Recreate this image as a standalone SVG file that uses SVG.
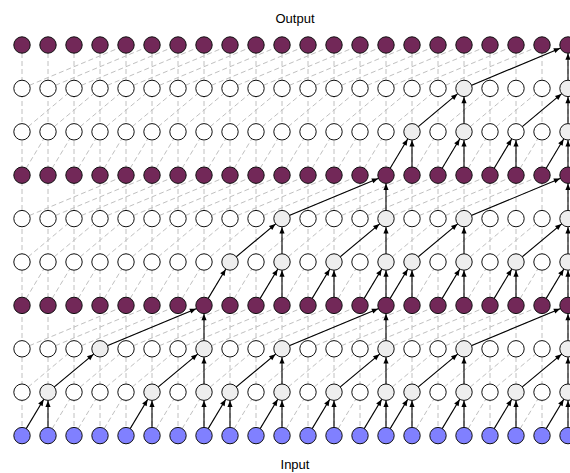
<svg xmlns="http://www.w3.org/2000/svg" width="570" height="473" viewBox="0 0 570 473">
<style>
text{font-family:"Liberation Sans",Arial,sans-serif;font-size:13px;fill:#000}
circle{stroke:#111;stroke-width:1}
.p{fill:#722858}.b{fill:#8080ff}.w{fill:#fff}.g{fill:#eeeeee}
.d{fill:none;stroke:#c0c0c0;stroke-width:1;stroke-dasharray:5 3}
.a{stroke:#000;stroke-width:1.1;marker-end:url(#ah)}
</style>
<defs>
<marker id="ah" markerUnits="userSpaceOnUse" markerWidth="8" markerHeight="8" refX="14.8" refY="0" orient="auto" overflow="visible">
<path d="M0,-2.6 L6.2,0 L0,2.6 z" fill="#000"/>
</marker>
</defs>
<rect width="570" height="473" fill="#fff"/>
<text x="295" y="23" text-anchor="middle">Output</text>
<text x="295" y="469" text-anchor="middle">Input</text>
<g id="connectors">
<g id="grid">
<path class="d" d="M22 45V435.6M48 45V435.6M74 45V435.6M100 45V435.6M126 45V435.6M152 45V435.6M178 45V435.6M204 45V435.6M230 45V435.6M256 45V435.6M282 45V435.6M308 45V435.6M334 45V435.6M360 45V435.6M386 45V435.6M412 45V435.6M438 45V435.6M464 45V435.6M490 45V435.6M516 45V435.6M542 45V435.6M568 45V435.6"/>
<path class="d" d="M22 88.4l104 -43.4M48 88.4l104 -43.4M74 88.4l104 -43.4M100 88.4l104 -43.4M126 88.4l104 -43.4M152 88.4l104 -43.4M178 88.4l104 -43.4M204 88.4l104 -43.4M230 88.4l104 -43.4M256 88.4l104 -43.4M282 88.4l104 -43.4M308 88.4l104 -43.4M334 88.4l104 -43.4M360 88.4l104 -43.4M386 88.4l104 -43.4M412 88.4l104 -43.4M438 88.4l104 -43.4M464 88.4l104 -43.4"/>
<path class="d" d="M22 131.8l52 -43.4M48 131.8l52 -43.4M74 131.8l52 -43.4M100 131.8l52 -43.4M126 131.8l52 -43.4M152 131.8l52 -43.4M178 131.8l52 -43.4M204 131.8l52 -43.4M230 131.8l52 -43.4M256 131.8l52 -43.4M282 131.8l52 -43.4M308 131.8l52 -43.4M334 131.8l52 -43.4M360 131.8l52 -43.4M386 131.8l52 -43.4M412 131.8l52 -43.4M438 131.8l52 -43.4M464 131.8l52 -43.4M490 131.8l52 -43.4M516 131.8l52 -43.4"/>
<path class="d" d="M22 175.2l26 -43.4M48 175.2l26 -43.4M74 175.2l26 -43.4M100 175.2l26 -43.4M126 175.2l26 -43.4M152 175.2l26 -43.4M178 175.2l26 -43.4M204 175.2l26 -43.4M230 175.2l26 -43.4M256 175.2l26 -43.4M282 175.2l26 -43.4M308 175.2l26 -43.4M334 175.2l26 -43.4M360 175.2l26 -43.4M386 175.2l26 -43.4M412 175.2l26 -43.4M438 175.2l26 -43.4M464 175.2l26 -43.4M490 175.2l26 -43.4M516 175.2l26 -43.4M542 175.2l26 -43.4"/>
<path class="d" d="M22 218.6l104 -43.4M48 218.6l104 -43.4M74 218.6l104 -43.4M100 218.6l104 -43.4M126 218.6l104 -43.4M152 218.6l104 -43.4M178 218.6l104 -43.4M204 218.6l104 -43.4M230 218.6l104 -43.4M256 218.6l104 -43.4M282 218.6l104 -43.4M308 218.6l104 -43.4M334 218.6l104 -43.4M360 218.6l104 -43.4M386 218.6l104 -43.4M412 218.6l104 -43.4M438 218.6l104 -43.4M464 218.6l104 -43.4"/>
<path class="d" d="M22 262l52 -43.4M48 262l52 -43.4M74 262l52 -43.4M100 262l52 -43.4M126 262l52 -43.4M152 262l52 -43.4M178 262l52 -43.4M204 262l52 -43.4M230 262l52 -43.4M256 262l52 -43.4M282 262l52 -43.4M308 262l52 -43.4M334 262l52 -43.4M360 262l52 -43.4M386 262l52 -43.4M412 262l52 -43.4M438 262l52 -43.4M464 262l52 -43.4M490 262l52 -43.4M516 262l52 -43.4"/>
<path class="d" d="M22 305.4l26 -43.4M48 305.4l26 -43.4M74 305.4l26 -43.4M100 305.4l26 -43.4M126 305.4l26 -43.4M152 305.4l26 -43.4M178 305.4l26 -43.4M204 305.4l26 -43.4M230 305.4l26 -43.4M256 305.4l26 -43.4M282 305.4l26 -43.4M308 305.4l26 -43.4M334 305.4l26 -43.4M360 305.4l26 -43.4M386 305.4l26 -43.4M412 305.4l26 -43.4M438 305.4l26 -43.4M464 305.4l26 -43.4M490 305.4l26 -43.4M516 305.4l26 -43.4M542 305.4l26 -43.4"/>
<path class="d" d="M22 348.8l104 -43.4M48 348.8l104 -43.4M74 348.8l104 -43.4M100 348.8l104 -43.4M126 348.8l104 -43.4M152 348.8l104 -43.4M178 348.8l104 -43.4M204 348.8l104 -43.4M230 348.8l104 -43.4M256 348.8l104 -43.4M282 348.8l104 -43.4M308 348.8l104 -43.4M334 348.8l104 -43.4M360 348.8l104 -43.4M386 348.8l104 -43.4M412 348.8l104 -43.4M438 348.8l104 -43.4M464 348.8l104 -43.4"/>
<path class="d" d="M22 392.2l52 -43.4M48 392.2l52 -43.4M74 392.2l52 -43.4M100 392.2l52 -43.4M126 392.2l52 -43.4M152 392.2l52 -43.4M178 392.2l52 -43.4M204 392.2l52 -43.4M230 392.2l52 -43.4M256 392.2l52 -43.4M282 392.2l52 -43.4M308 392.2l52 -43.4M334 392.2l52 -43.4M360 392.2l52 -43.4M386 392.2l52 -43.4M412 392.2l52 -43.4M438 392.2l52 -43.4M464 392.2l52 -43.4M490 392.2l52 -43.4M516 392.2l52 -43.4"/>
<path class="d" d="M22 435.6l26 -43.4M48 435.6l26 -43.4M74 435.6l26 -43.4M100 435.6l26 -43.4M126 435.6l26 -43.4M152 435.6l26 -43.4M178 435.6l26 -43.4M204 435.6l26 -43.4M230 435.6l26 -43.4M256 435.6l26 -43.4M282 435.6l26 -43.4M308 435.6l26 -43.4M334 435.6l26 -43.4M360 435.6l26 -43.4M386 435.6l26 -43.4M412 435.6l26 -43.4M438 435.6l26 -43.4M464 435.6l26 -43.4M490 435.6l26 -43.4M516 435.6l26 -43.4M542 435.6l26 -43.4"/>
</g>
<g id="arrows">
<line class="a" x1="22" y1="435.6" x2="48" y2="392.2"/>
<line class="a" x1="48" y1="435.6" x2="48" y2="392.2"/>
<line class="a" x1="126" y1="435.6" x2="152" y2="392.2"/>
<line class="a" x1="152" y1="435.6" x2="152" y2="392.2"/>
<line class="a" x1="204" y1="435.6" x2="204" y2="392.2"/>
<line class="a" x1="204" y1="435.6" x2="230" y2="392.2"/>
<line class="a" x1="230" y1="435.6" x2="230" y2="392.2"/>
<line class="a" x1="256" y1="435.6" x2="282" y2="392.2"/>
<line class="a" x1="282" y1="435.6" x2="282" y2="392.2"/>
<line class="a" x1="308" y1="435.6" x2="334" y2="392.2"/>
<line class="a" x1="334" y1="435.6" x2="334" y2="392.2"/>
<line class="a" x1="360" y1="435.6" x2="386" y2="392.2"/>
<line class="a" x1="386" y1="435.6" x2="386" y2="392.2"/>
<line class="a" x1="386" y1="435.6" x2="412" y2="392.2"/>
<line class="a" x1="412" y1="435.6" x2="412" y2="392.2"/>
<line class="a" x1="438" y1="435.6" x2="464" y2="392.2"/>
<line class="a" x1="464" y1="435.6" x2="464" y2="392.2"/>
<line class="a" x1="490" y1="435.6" x2="516" y2="392.2"/>
<line class="a" x1="516" y1="435.6" x2="516" y2="392.2"/>
<line class="a" x1="542" y1="435.6" x2="568" y2="392.2"/>
<line class="a" x1="568" y1="435.6" x2="568" y2="392.2"/>
<line class="a" x1="48" y1="392.2" x2="100" y2="348.8"/>
<line class="a" x1="152" y1="392.2" x2="204" y2="348.8"/>
<line class="a" x1="204" y1="392.2" x2="204" y2="348.8"/>
<line class="a" x1="230" y1="392.2" x2="282" y2="348.8"/>
<line class="a" x1="282" y1="392.2" x2="282" y2="348.8"/>
<line class="a" x1="334" y1="392.2" x2="386" y2="348.8"/>
<line class="a" x1="386" y1="392.2" x2="386" y2="348.8"/>
<line class="a" x1="412" y1="392.2" x2="464" y2="348.8"/>
<line class="a" x1="464" y1="392.2" x2="464" y2="348.8"/>
<line class="a" x1="516" y1="392.2" x2="568" y2="348.8"/>
<line class="a" x1="568" y1="392.2" x2="568" y2="348.8"/>
<line class="a" x1="100" y1="348.8" x2="204" y2="305.4"/>
<line class="a" x1="204" y1="348.8" x2="204" y2="305.4"/>
<line class="a" x1="282" y1="348.8" x2="386" y2="305.4"/>
<line class="a" x1="386" y1="348.8" x2="386" y2="305.4"/>
<line class="a" x1="464" y1="348.8" x2="568" y2="305.4"/>
<line class="a" x1="568" y1="348.8" x2="568" y2="305.4"/>
<line class="a" x1="204" y1="305.4" x2="230" y2="262"/>
<line class="a" x1="256" y1="305.4" x2="282" y2="262"/>
<line class="a" x1="282" y1="305.4" x2="282" y2="262"/>
<line class="a" x1="308" y1="305.4" x2="334" y2="262"/>
<line class="a" x1="334" y1="305.4" x2="334" y2="262"/>
<line class="a" x1="360" y1="305.4" x2="386" y2="262"/>
<line class="a" x1="386" y1="305.4" x2="386" y2="262"/>
<line class="a" x1="386" y1="305.4" x2="412" y2="262"/>
<line class="a" x1="412" y1="305.4" x2="412" y2="262"/>
<line class="a" x1="438" y1="305.4" x2="464" y2="262"/>
<line class="a" x1="464" y1="305.4" x2="464" y2="262"/>
<line class="a" x1="490" y1="305.4" x2="516" y2="262"/>
<line class="a" x1="516" y1="305.4" x2="516" y2="262"/>
<line class="a" x1="542" y1="305.4" x2="568" y2="262"/>
<line class="a" x1="568" y1="305.4" x2="568" y2="262"/>
<line class="a" x1="230" y1="262" x2="282" y2="218.6"/>
<line class="a" x1="282" y1="262" x2="282" y2="218.6"/>
<line class="a" x1="334" y1="262" x2="386" y2="218.6"/>
<line class="a" x1="386" y1="262" x2="386" y2="218.6"/>
<line class="a" x1="412" y1="262" x2="464" y2="218.6"/>
<line class="a" x1="464" y1="262" x2="464" y2="218.6"/>
<line class="a" x1="516" y1="262" x2="568" y2="218.6"/>
<line class="a" x1="568" y1="262" x2="568" y2="218.6"/>
<line class="a" x1="282" y1="218.6" x2="386" y2="175.2"/>
<line class="a" x1="386" y1="218.6" x2="386" y2="175.2"/>
<line class="a" x1="464" y1="218.6" x2="568" y2="175.2"/>
<line class="a" x1="568" y1="218.6" x2="568" y2="175.2"/>
<line class="a" x1="386" y1="175.2" x2="412" y2="131.8"/>
<line class="a" x1="412" y1="175.2" x2="412" y2="131.8"/>
<line class="a" x1="438" y1="175.2" x2="464" y2="131.8"/>
<line class="a" x1="464" y1="175.2" x2="464" y2="131.8"/>
<line class="a" x1="490" y1="175.2" x2="516" y2="131.8"/>
<line class="a" x1="516" y1="175.2" x2="516" y2="131.8"/>
<line class="a" x1="542" y1="175.2" x2="568" y2="131.8"/>
<line class="a" x1="568" y1="175.2" x2="568" y2="131.8"/>
<line class="a" x1="412" y1="131.8" x2="464" y2="88.4"/>
<line class="a" x1="464" y1="131.8" x2="464" y2="88.4"/>
<line class="a" x1="516" y1="131.8" x2="568" y2="88.4"/>
<line class="a" x1="568" y1="131.8" x2="568" y2="88.4"/>
<line class="a" x1="464" y1="88.4" x2="568" y2="45"/>
<line class="a" x1="568" y1="88.4" x2="568" y2="45"/>
</g>
</g>
<g id="nodes">
<g id="row0" transform="translate(0,45)">
<g id="n0-0"><circle class="p" cx="22" r="8.2"/></g><g id="n0-1"><circle class="p" cx="48" r="8.2"/></g><g id="n0-2"><circle class="p" cx="74" r="8.2"/></g><g id="n0-3"><circle class="p" cx="100" r="8.2"/></g><g id="n0-4"><circle class="p" cx="126" r="8.2"/></g><g id="n0-5"><circle class="p" cx="152" r="8.2"/></g><g id="n0-6"><circle class="p" cx="178" r="8.2"/></g><g id="n0-7"><circle class="p" cx="204" r="8.2"/></g><g id="n0-8"><circle class="p" cx="230" r="8.2"/></g><g id="n0-9"><circle class="p" cx="256" r="8.2"/></g><g id="n0-10"><circle class="p" cx="282" r="8.2"/></g><g id="n0-11"><circle class="p" cx="308" r="8.2"/></g><g id="n0-12"><circle class="p" cx="334" r="8.2"/></g><g id="n0-13"><circle class="p" cx="360" r="8.2"/></g><g id="n0-14"><circle class="p" cx="386" r="8.2"/></g><g id="n0-15"><circle class="p" cx="412" r="8.2"/></g><g id="n0-16"><circle class="p" cx="438" r="8.2"/></g><g id="n0-17"><circle class="p" cx="464" r="8.2"/></g><g id="n0-18"><circle class="p" cx="490" r="8.2"/></g><g id="n0-19"><circle class="p" cx="516" r="8.2"/></g><g id="n0-20"><circle class="p" cx="542" r="8.2"/></g><g id="n0-21"><circle class="p" cx="568" r="8.2"/></g>
</g>
<g id="row1" transform="translate(0,88.4)">
<g id="n1-0"><circle class="w" cx="22" r="8.2"/></g><g id="n1-1"><circle class="w" cx="48" r="8.2"/></g><g id="n1-2"><circle class="w" cx="74" r="8.2"/></g><g id="n1-3"><circle class="w" cx="100" r="8.2"/></g><g id="n1-4"><circle class="w" cx="126" r="8.2"/></g><g id="n1-5"><circle class="w" cx="152" r="8.2"/></g><g id="n1-6"><circle class="w" cx="178" r="8.2"/></g><g id="n1-7"><circle class="w" cx="204" r="8.2"/></g><g id="n1-8"><circle class="w" cx="230" r="8.2"/></g><g id="n1-9"><circle class="w" cx="256" r="8.2"/></g><g id="n1-10"><circle class="w" cx="282" r="8.2"/></g><g id="n1-11"><circle class="w" cx="308" r="8.2"/></g><g id="n1-12"><circle class="w" cx="334" r="8.2"/></g><g id="n1-13"><circle class="w" cx="360" r="8.2"/></g><g id="n1-14"><circle class="w" cx="386" r="8.2"/></g><g id="n1-15"><circle class="w" cx="412" r="8.2"/></g><g id="n1-16"><circle class="w" cx="438" r="8.2"/></g><g id="n1-17"><circle class="g" cx="464" r="8.2"/></g><g id="n1-18"><circle class="w" cx="490" r="8.2"/></g><g id="n1-19"><circle class="w" cx="516" r="8.2"/></g><g id="n1-20"><circle class="w" cx="542" r="8.2"/></g><g id="n1-21"><circle class="g" cx="568" r="8.2"/></g>
</g>
<g id="row2" transform="translate(0,131.8)">
<g id="n2-0"><circle class="w" cx="22" r="8.2"/></g><g id="n2-1"><circle class="w" cx="48" r="8.2"/></g><g id="n2-2"><circle class="w" cx="74" r="8.2"/></g><g id="n2-3"><circle class="w" cx="100" r="8.2"/></g><g id="n2-4"><circle class="w" cx="126" r="8.2"/></g><g id="n2-5"><circle class="w" cx="152" r="8.2"/></g><g id="n2-6"><circle class="w" cx="178" r="8.2"/></g><g id="n2-7"><circle class="w" cx="204" r="8.2"/></g><g id="n2-8"><circle class="w" cx="230" r="8.2"/></g><g id="n2-9"><circle class="w" cx="256" r="8.2"/></g><g id="n2-10"><circle class="w" cx="282" r="8.2"/></g><g id="n2-11"><circle class="w" cx="308" r="8.2"/></g><g id="n2-12"><circle class="w" cx="334" r="8.2"/></g><g id="n2-13"><circle class="w" cx="360" r="8.2"/></g><g id="n2-14"><circle class="w" cx="386" r="8.2"/></g><g id="n2-15"><circle class="g" cx="412" r="8.2"/></g><g id="n2-16"><circle class="w" cx="438" r="8.2"/></g><g id="n2-17"><circle class="g" cx="464" r="8.2"/></g><g id="n2-18"><circle class="w" cx="490" r="8.2"/></g><g id="n2-19"><circle class="w" cx="516" r="8.2"/></g><g id="n2-20"><circle class="w" cx="542" r="8.2"/></g><g id="n2-21"><circle class="g" cx="568" r="8.2"/></g>
</g>
<g id="row3" transform="translate(0,175.2)">
<g id="n3-0"><circle class="p" cx="22" r="8.2"/></g><g id="n3-1"><circle class="p" cx="48" r="8.2"/></g><g id="n3-2"><circle class="p" cx="74" r="8.2"/></g><g id="n3-3"><circle class="p" cx="100" r="8.2"/></g><g id="n3-4"><circle class="p" cx="126" r="8.2"/></g><g id="n3-5"><circle class="p" cx="152" r="8.2"/></g><g id="n3-6"><circle class="p" cx="178" r="8.2"/></g><g id="n3-7"><circle class="p" cx="204" r="8.2"/></g><g id="n3-8"><circle class="p" cx="230" r="8.2"/></g><g id="n3-9"><circle class="p" cx="256" r="8.2"/></g><g id="n3-10"><circle class="p" cx="282" r="8.2"/></g><g id="n3-11"><circle class="p" cx="308" r="8.2"/></g><g id="n3-12"><circle class="p" cx="334" r="8.2"/></g><g id="n3-13"><circle class="p" cx="360" r="8.2"/></g><g id="n3-14"><circle class="p" cx="386" r="8.2"/></g><g id="n3-15"><circle class="p" cx="412" r="8.2"/></g><g id="n3-16"><circle class="p" cx="438" r="8.2"/></g><g id="n3-17"><circle class="p" cx="464" r="8.2"/></g><g id="n3-18"><circle class="p" cx="490" r="8.2"/></g><g id="n3-19"><circle class="p" cx="516" r="8.2"/></g><g id="n3-20"><circle class="p" cx="542" r="8.2"/></g><g id="n3-21"><circle class="p" cx="568" r="8.2"/></g>
</g>
<g id="row4" transform="translate(0,218.6)">
<g id="n4-0"><circle class="w" cx="22" r="8.2"/></g><g id="n4-1"><circle class="w" cx="48" r="8.2"/></g><g id="n4-2"><circle class="w" cx="74" r="8.2"/></g><g id="n4-3"><circle class="w" cx="100" r="8.2"/></g><g id="n4-4"><circle class="w" cx="126" r="8.2"/></g><g id="n4-5"><circle class="w" cx="152" r="8.2"/></g><g id="n4-6"><circle class="w" cx="178" r="8.2"/></g><g id="n4-7"><circle class="w" cx="204" r="8.2"/></g><g id="n4-8"><circle class="w" cx="230" r="8.2"/></g><g id="n4-9"><circle class="w" cx="256" r="8.2"/></g><g id="n4-10"><circle class="g" cx="282" r="8.2"/></g><g id="n4-11"><circle class="w" cx="308" r="8.2"/></g><g id="n4-12"><circle class="w" cx="334" r="8.2"/></g><g id="n4-13"><circle class="w" cx="360" r="8.2"/></g><g id="n4-14"><circle class="g" cx="386" r="8.2"/></g><g id="n4-15"><circle class="w" cx="412" r="8.2"/></g><g id="n4-16"><circle class="w" cx="438" r="8.2"/></g><g id="n4-17"><circle class="g" cx="464" r="8.2"/></g><g id="n4-18"><circle class="w" cx="490" r="8.2"/></g><g id="n4-19"><circle class="w" cx="516" r="8.2"/></g><g id="n4-20"><circle class="w" cx="542" r="8.2"/></g><g id="n4-21"><circle class="g" cx="568" r="8.2"/></g>
</g>
<g id="row5" transform="translate(0,262)">
<g id="n5-0"><circle class="w" cx="22" r="8.2"/></g><g id="n5-1"><circle class="w" cx="48" r="8.2"/></g><g id="n5-2"><circle class="w" cx="74" r="8.2"/></g><g id="n5-3"><circle class="w" cx="100" r="8.2"/></g><g id="n5-4"><circle class="w" cx="126" r="8.2"/></g><g id="n5-5"><circle class="w" cx="152" r="8.2"/></g><g id="n5-6"><circle class="w" cx="178" r="8.2"/></g><g id="n5-7"><circle class="w" cx="204" r="8.2"/></g><g id="n5-8"><circle class="g" cx="230" r="8.2"/></g><g id="n5-9"><circle class="w" cx="256" r="8.2"/></g><g id="n5-10"><circle class="g" cx="282" r="8.2"/></g><g id="n5-11"><circle class="w" cx="308" r="8.2"/></g><g id="n5-12"><circle class="g" cx="334" r="8.2"/></g><g id="n5-13"><circle class="w" cx="360" r="8.2"/></g><g id="n5-14"><circle class="g" cx="386" r="8.2"/></g><g id="n5-15"><circle class="g" cx="412" r="8.2"/></g><g id="n5-16"><circle class="w" cx="438" r="8.2"/></g><g id="n5-17"><circle class="g" cx="464" r="8.2"/></g><g id="n5-18"><circle class="w" cx="490" r="8.2"/></g><g id="n5-19"><circle class="g" cx="516" r="8.2"/></g><g id="n5-20"><circle class="w" cx="542" r="8.2"/></g><g id="n5-21"><circle class="g" cx="568" r="8.2"/></g>
</g>
<g id="row6" transform="translate(0,305.4)">
<g id="n6-0"><circle class="p" cx="22" r="8.2"/></g><g id="n6-1"><circle class="p" cx="48" r="8.2"/></g><g id="n6-2"><circle class="p" cx="74" r="8.2"/></g><g id="n6-3"><circle class="p" cx="100" r="8.2"/></g><g id="n6-4"><circle class="p" cx="126" r="8.2"/></g><g id="n6-5"><circle class="p" cx="152" r="8.2"/></g><g id="n6-6"><circle class="p" cx="178" r="8.2"/></g><g id="n6-7"><circle class="p" cx="204" r="8.2"/></g><g id="n6-8"><circle class="p" cx="230" r="8.2"/></g><g id="n6-9"><circle class="p" cx="256" r="8.2"/></g><g id="n6-10"><circle class="p" cx="282" r="8.2"/></g><g id="n6-11"><circle class="p" cx="308" r="8.2"/></g><g id="n6-12"><circle class="p" cx="334" r="8.2"/></g><g id="n6-13"><circle class="p" cx="360" r="8.2"/></g><g id="n6-14"><circle class="p" cx="386" r="8.2"/></g><g id="n6-15"><circle class="p" cx="412" r="8.2"/></g><g id="n6-16"><circle class="p" cx="438" r="8.2"/></g><g id="n6-17"><circle class="p" cx="464" r="8.2"/></g><g id="n6-18"><circle class="p" cx="490" r="8.2"/></g><g id="n6-19"><circle class="p" cx="516" r="8.2"/></g><g id="n6-20"><circle class="p" cx="542" r="8.2"/></g><g id="n6-21"><circle class="p" cx="568" r="8.2"/></g>
</g>
<g id="row7" transform="translate(0,348.8)">
<g id="n7-0"><circle class="w" cx="22" r="8.2"/></g><g id="n7-1"><circle class="w" cx="48" r="8.2"/></g><g id="n7-2"><circle class="w" cx="74" r="8.2"/></g><g id="n7-3"><circle class="g" cx="100" r="8.2"/></g><g id="n7-4"><circle class="w" cx="126" r="8.2"/></g><g id="n7-5"><circle class="w" cx="152" r="8.2"/></g><g id="n7-6"><circle class="w" cx="178" r="8.2"/></g><g id="n7-7"><circle class="g" cx="204" r="8.2"/></g><g id="n7-8"><circle class="w" cx="230" r="8.2"/></g><g id="n7-9"><circle class="w" cx="256" r="8.2"/></g><g id="n7-10"><circle class="g" cx="282" r="8.2"/></g><g id="n7-11"><circle class="w" cx="308" r="8.2"/></g><g id="n7-12"><circle class="w" cx="334" r="8.2"/></g><g id="n7-13"><circle class="w" cx="360" r="8.2"/></g><g id="n7-14"><circle class="g" cx="386" r="8.2"/></g><g id="n7-15"><circle class="w" cx="412" r="8.2"/></g><g id="n7-16"><circle class="w" cx="438" r="8.2"/></g><g id="n7-17"><circle class="g" cx="464" r="8.2"/></g><g id="n7-18"><circle class="w" cx="490" r="8.2"/></g><g id="n7-19"><circle class="w" cx="516" r="8.2"/></g><g id="n7-20"><circle class="w" cx="542" r="8.2"/></g><g id="n7-21"><circle class="g" cx="568" r="8.2"/></g>
</g>
<g id="row8" transform="translate(0,392.2)">
<g id="n8-0"><circle class="w" cx="22" r="8.2"/></g><g id="n8-1"><circle class="g" cx="48" r="8.2"/></g><g id="n8-2"><circle class="w" cx="74" r="8.2"/></g><g id="n8-3"><circle class="w" cx="100" r="8.2"/></g><g id="n8-4"><circle class="w" cx="126" r="8.2"/></g><g id="n8-5"><circle class="g" cx="152" r="8.2"/></g><g id="n8-6"><circle class="w" cx="178" r="8.2"/></g><g id="n8-7"><circle class="g" cx="204" r="8.2"/></g><g id="n8-8"><circle class="g" cx="230" r="8.2"/></g><g id="n8-9"><circle class="w" cx="256" r="8.2"/></g><g id="n8-10"><circle class="g" cx="282" r="8.2"/></g><g id="n8-11"><circle class="w" cx="308" r="8.2"/></g><g id="n8-12"><circle class="g" cx="334" r="8.2"/></g><g id="n8-13"><circle class="w" cx="360" r="8.2"/></g><g id="n8-14"><circle class="g" cx="386" r="8.2"/></g><g id="n8-15"><circle class="g" cx="412" r="8.2"/></g><g id="n8-16"><circle class="w" cx="438" r="8.2"/></g><g id="n8-17"><circle class="g" cx="464" r="8.2"/></g><g id="n8-18"><circle class="w" cx="490" r="8.2"/></g><g id="n8-19"><circle class="g" cx="516" r="8.2"/></g><g id="n8-20"><circle class="w" cx="542" r="8.2"/></g><g id="n8-21"><circle class="g" cx="568" r="8.2"/></g>
</g>
<g id="row9" transform="translate(0,435.6)">
<g id="n9-0"><circle class="b" cx="22" r="8.2"/></g><g id="n9-1"><circle class="b" cx="48" r="8.2"/></g><g id="n9-2"><circle class="b" cx="74" r="8.2"/></g><g id="n9-3"><circle class="b" cx="100" r="8.2"/></g><g id="n9-4"><circle class="b" cx="126" r="8.2"/></g><g id="n9-5"><circle class="b" cx="152" r="8.2"/></g><g id="n9-6"><circle class="b" cx="178" r="8.2"/></g><g id="n9-7"><circle class="b" cx="204" r="8.2"/></g><g id="n9-8"><circle class="b" cx="230" r="8.2"/></g><g id="n9-9"><circle class="b" cx="256" r="8.2"/></g><g id="n9-10"><circle class="b" cx="282" r="8.2"/></g><g id="n9-11"><circle class="b" cx="308" r="8.2"/></g><g id="n9-12"><circle class="b" cx="334" r="8.2"/></g><g id="n9-13"><circle class="b" cx="360" r="8.2"/></g><g id="n9-14"><circle class="b" cx="386" r="8.2"/></g><g id="n9-15"><circle class="b" cx="412" r="8.2"/></g><g id="n9-16"><circle class="b" cx="438" r="8.2"/></g><g id="n9-17"><circle class="b" cx="464" r="8.2"/></g><g id="n9-18"><circle class="b" cx="490" r="8.2"/></g><g id="n9-19"><circle class="b" cx="516" r="8.2"/></g><g id="n9-20"><circle class="b" cx="542" r="8.2"/></g><g id="n9-21"><circle class="b" cx="568" r="8.2"/></g>
</g>
</g>
</svg>
